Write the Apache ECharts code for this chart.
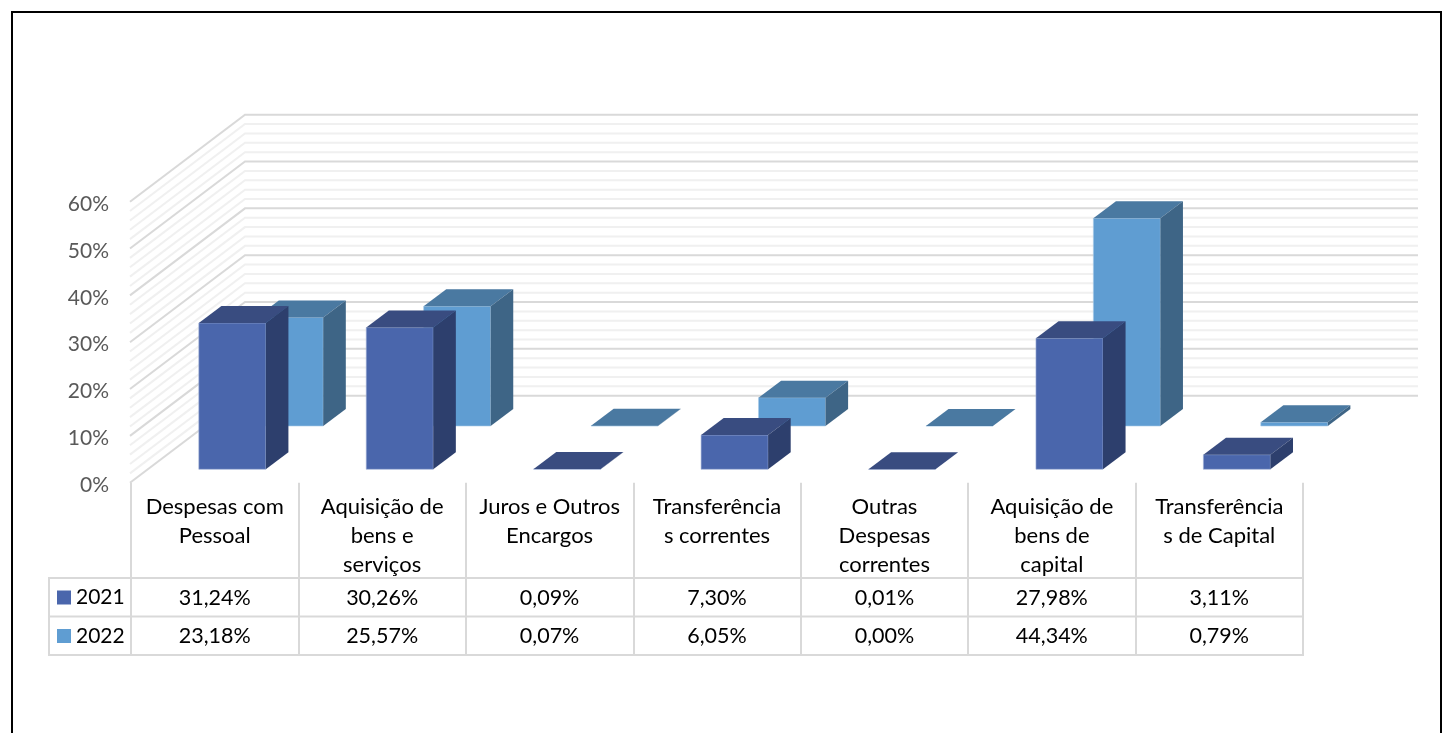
<!doctype html>
<html lang="pt">
<head>
    <meta charset="UTF-8">
    <title>Despesas 2021-2022</title>
    <script src="https://cdn.jsdelivr.net/npm/echarts@6/dist/echarts.min.js"></script>
    <style>
        html, body { margin: 0; padding: 0; background: #fff; }
        #container { width: 1448px; height: 733px; }
    </style>
</head>
<body>
<div id="container"></div>
<script type="text/javascript">

    var categories = [
        'Despesas com\nPessoal',
        'Aquisição de\nbens e\nserviços',
        'Juros e Outros\nEncargos',
        'Transferência\ns correntes',
        'Outras\nDespesas\ncorrentes',
        'Aquisição de\nbens de\ncapital',
        'Transferência\ns de Capital'
    ];
    var values2021 = [31.24, 30.26, 0.09, 7.30, 0.01, 27.98, 3.11];
    var values2022 = [23.18, 25.57, 0.07, 6.05, 0.00, 44.34, 0.79];
    var wallTicks = [0, 2, 4, 6, 8, 10, 12, 14, 16, 18, 20, 22, 24, 26, 28, 30,
        32, 34, 36, 38, 40, 42, 44, 46, 48, 50, 52, 54, 56, 58, 60];

    var fontName = 'Lato';
    var WALL_DX = 115, WALL_DY = 87;     // profundidade da parede do fundo
    var BAR_W = 67, BAR_DX = 22.6, BAR_DY = 17;

    var dom = document.getElementById('container');
    var myChart = echarts.init(dom);

    function pts(arr) {
        return { points: arr };
    }

    function barRender(colors, offX, offY) {
        return function (params, api) {
            var p = api.coord([api.value(0), api.value(1)]);
            var base = api.coord([api.value(0), 0]);
            var x0 = base[0] + offX - BAR_W / 2, x1 = x0 + BAR_W;
            var yb = base[1] - offY, yt = p[1] - offY;
            return {
                type: 'group',
                children: [
                    { type: 'polygon', shape: pts([[x0, yb], [x1, yb], [x1, yt], [x0, yt]]),
                      style: { fill: colors[0], stroke: colors[3], lineWidth: 0.6 } },
                    { type: 'polygon', shape: pts([[x0, yt], [x1, yt], [x1 + BAR_DX, yt - BAR_DY], [x0 + BAR_DX, yt - BAR_DY]]),
                      style: { fill: colors[1] } },
                    { type: 'polygon', shape: pts([[x1, yb], [x1 + BAR_DX, yb - BAR_DY], [x1 + BAR_DX, yt - BAR_DY], [x1, yt]]),
                      style: { fill: colors[2] } }
                ]
            };
        };
    }

    function wallRender(params, api) {
        var tick = api.value(1);
        var y = api.coord([0, tick])[1];
        var left = params.coordSys.x - 1;
        var right = params.coordSys.x + params.coordSys.width + WALL_DX;
        return {
            type: 'polyline',
            shape: pts([[left, y], [left + WALL_DX, y - WALL_DY], [right, y - WALL_DY]]),
            style: { fill: null, stroke: tick % 10 === 0 ? '#d9d9d9' : '#f0f0f0', lineWidth: 2 }
        };
    }

    function fmt(v) {
        return v.toFixed(2).replace('.', ',') + '%';
    }

    // linhas horizontais e valores da tabela de dados
    function tableRender(params, api) {
        var i = params.dataIndex;
        var rowY = [578, 616.5, 655];
        var cs = params.coordSys;
        var kids = [];
        if (i === 0) {
            rowY.forEach(function (y) {
                kids.push({ type: 'line', shape: { x1: 48, y1: y, x2: cs.x + cs.width + 1, y2: y },
                    style: { stroke: '#d9d9d9', lineWidth: 2 } });
            });
            kids.push({ type: 'line', shape: { x1: 49, y1: 578, x2: 49, y2: 655 },
                style: { stroke: '#d9d9d9', lineWidth: 2 } });
        }
        var cx = api.coord([i, 0])[0];
        kids.push({ type: 'text', style: { x: cx, y: 598, text: fmt(api.value(1)), align: 'center', verticalAlign: 'middle',
            font: '21.5px ' + fontName, fill: '#000' } });
        kids.push({ type: 'text', style: { x: cx, y: 636.5, text: fmt(api.value(2)), align: 'center', verticalAlign: 'middle',
            font: '21.5px ' + fontName, fill: '#000' } });
        return { type: 'group', children: kids };
    }

    var option = {
        animation: false,
        backgroundColor: '#fff',
        textStyle: { fontFamily: fontName },
        graphic: [{
            type: 'rect',
            shape: { x: 12, y: 12, width: 1429, height: 800 },
            style: { fill: null, stroke: '#000', lineWidth: 2 },
            silent: true
        }],
        legend: {
            left: 57,
            top: 587,
            padding: 0,
            orient: 'vertical',
            itemWidth: 14,
            itemHeight: 14,
            itemGap: 17.5,
            selectedMode: false,
            textStyle: { fontFamily: fontName, fontSize: 21, color: '#000' },
            data: [{ name: '2021', icon: 'rect' }, { name: '2022', icon: 'rect' }]
        },
        grid: { left: 131, top: 201.7, width: 1172, height: 281 },
        xAxis: {
            type: 'category',
            data: categories,
            axisLine: { show: false },
            axisTick: { show: true, length: 172, alignWithLabel: false, interval: 0,
                lineStyle: { color: '#d9d9d9', width: 2 } },
            axisLabel: { interval: 0, margin: 10, fontSize: 22, lineHeight: 29, color: '#000',
                fontFamily: fontName, verticalAlign: 'top' },
            splitLine: { show: false }
        },
        yAxis: {
            type: 'value',
            min: 0,
            max: 60,
            interval: 10,
            axisLine: { show: false },
            axisTick: { show: false },
            splitLine: { show: false },
            axisLabel: {
                formatter: function (v) { return '{pct|' + v + '%}'; },
                margin: 22,
                rich: { pct: { fontSize: 21, color: '#595959', fontFamily: fontName, padding: [5, 0, 0, 0] } }
            }
        },
        series: [
            {
                name: 'parede', type: 'custom', z: 1, silent: true,
                renderItem: wallRender,
                data: wallTicks.map(function (t) { return [0, t]; })
            },
            {
                name: '2022', type: 'custom', z: 2,
                itemStyle: { color: '#5f9dd2' },
                renderItem: barRender(['#5f9dd2', '#4a79a1', '#3e6586', '#a9cbe8'], 75, 56.7),
                data: values2022.map(function (v, i) { return [i, v]; })
            },
            {
                name: '2021', type: 'custom', z: 3,
                itemStyle: { color: '#4a66ac' },
                renderItem: barRender(['#4a66ac', '#394c80', '#2d3f6d', '#9fb0d6'], 17.6, 13.4),
                data: values2021.map(function (v, i) { return [i, v]; })
            },
            {
                name: 'tabela', type: 'custom', z: 4, silent: true,
                renderItem: tableRender,
                data: values2021.map(function (v, i) { return [i, v, values2022[i]]; })
            }
        ]
    };

    myChart.setOption(option, true);

</script>
</body>
</html>
